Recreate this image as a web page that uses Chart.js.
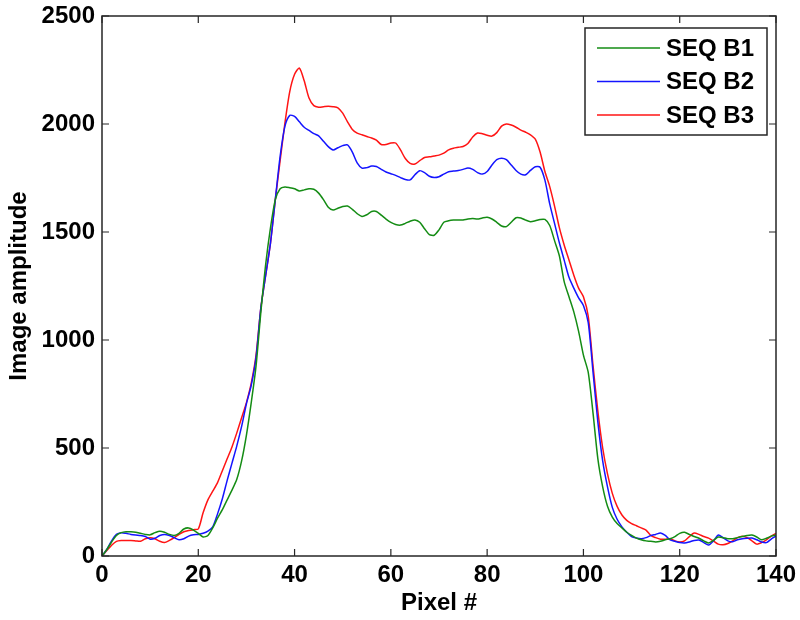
<!DOCTYPE html>
<html>
<head>
<meta charset="utf-8">
<script src="https://cdn.jsdelivr.net/npm/chart.js@4/dist/chart.umd.min.js"></script>
<style>
  html, body { margin: 0; padding: 0; background: #fff; }
  #wrap { width: 800px; height: 620px; }
</style>
</head>
<body>
<div id="wrap"><canvas id="myChart"></canvas></div>
<script>
// pixel positions along the profile (x axis)
const pixels = Array.from({ length: 141 }, (_, i) => i);

const seqB1 = [
  0, 30, 65, 95, 108, 112, 112, 110, 105, 100,
  98, 108, 115, 110, 100, 95, 105, 125, 130, 120,
  105, 88, 95, 130, 175, 215, 260, 305, 355, 440,
  560, 710, 880, 1130, 1350, 1520, 1650, 1700, 1708, 1705,
  1700, 1690, 1695, 1700, 1698, 1680, 1650, 1615, 1602, 1610,
  1618, 1620, 1605, 1585, 1572, 1580, 1595, 1595, 1578, 1560,
  1545, 1535, 1532, 1540, 1550, 1556, 1545, 1515, 1488, 1485,
  1510, 1545, 1552, 1555, 1555, 1556, 1560, 1562, 1560, 1565,
  1568, 1560, 1545, 1528, 1525, 1545, 1566, 1565, 1555, 1548,
  1552, 1558, 1558, 1530, 1460, 1390, 1270, 1200, 1130, 1040,
  930, 850, 660, 450, 320, 230, 180, 150, 130, 110,
  95, 83, 75, 70, 68, 65, 68, 75, 80, 90,
  105, 110, 100, 90, 82, 70, 60, 72, 88, 85,
  80, 80, 85, 90, 95, 97, 88, 75, 82, 92,
  97
];

const seqB2 = [
  0, 30, 70, 100, 108, 105, 100, 97, 95, 90,
  78, 82, 95, 100, 95, 85, 75, 80, 92, 98,
  100, 105, 115, 135, 195, 265, 350, 430, 510, 600,
  705, 790, 920, 1150, 1300, 1450, 1650, 1850, 1990, 2040,
  2035, 2010, 1985, 1970, 1955, 1945, 1920, 1895, 1880, 1890,
  1900, 1903, 1870, 1820, 1796, 1798, 1805, 1803, 1790, 1778,
  1770, 1762, 1752, 1743, 1741, 1765, 1784, 1775, 1758, 1752,
  1756, 1768, 1779, 1782, 1785, 1790, 1796, 1790, 1775, 1768,
  1780, 1810, 1835, 1842, 1835, 1810, 1785, 1768, 1765, 1785,
  1802, 1800, 1740, 1630, 1540, 1450, 1370, 1290, 1240, 1195,
  1160, 1080, 850, 620, 440, 320, 225, 170, 135, 110,
  90, 83, 80, 85, 95, 100, 106, 95, 75, 68,
  62, 60, 65, 72, 74, 62, 51, 70, 97, 85,
  70, 66, 75, 80, 82, 83, 75, 65, 62, 78,
  92
];

const seqB3 = [
  0, 25, 50, 68, 72, 72, 72, 70, 68, 80,
  85, 80, 68, 62, 72, 85, 100, 112, 118, 122,
  125, 200, 260, 300, 340, 395, 450, 505, 570, 640,
  710, 800, 930, 1150, 1300, 1450, 1650, 1830, 2005, 2150,
  2230, 2259, 2200, 2120, 2085, 2078, 2080, 2082, 2080, 2075,
  2050, 2010, 1975, 1958, 1950, 1942, 1935, 1925, 1905, 1905,
  1912, 1912, 1880, 1840, 1818, 1815, 1830, 1845, 1848, 1852,
  1856, 1865, 1880, 1888, 1892, 1896, 1910, 1940, 1958, 1955,
  1948, 1944, 1960, 1990, 2000, 1995, 1985, 1972, 1962, 1950,
  1930, 1870, 1780, 1710, 1620, 1520, 1440, 1370, 1300, 1240,
  1200, 1110, 880, 670, 500, 380, 290, 230, 190, 165,
  150, 140, 130, 120, 95, 85, 78, 78, 80, 70,
  65, 70, 90, 106, 100, 90, 83, 70, 55, 52,
  58, 70, 85, 92, 85, 70, 55, 62, 75, 92,
  105
];

const seriesNames = ['SEQ B1', 'SEQ B2', 'SEQ B3'];
const seriesColors = ['rgb(20,140,20)', 'rgb(20,20,255)', 'rgb(255,20,20)'];

const FONT = 'Arial, "Liberation Sans", Helvetica, sans-serif';
const frameColor = '#262626';

// matlab style box with inward ticks + legend in the upper right
const boxPlugin = {
  id: 'box',
  afterDraw(chart) {
    const { ctx, chartArea: a, scales } = chart;
    ctx.save();
    ctx.strokeStyle = frameColor;
    ctx.lineWidth = 1.5;
    ctx.strokeRect(a.left, a.top, a.right - a.left, a.bottom - a.top);

    const tl = 7;
    ctx.lineWidth = 1.2;
    ctx.beginPath();
    scales.x.ticks.forEach((t) => {
      const px = scales.x.getPixelForValue(t.value);
      ctx.moveTo(px, a.bottom);
      ctx.lineTo(px, a.bottom - tl);
      ctx.moveTo(px, a.top);
      ctx.lineTo(px, a.top + tl);
    });
    scales.y.ticks.forEach((t) => {
      const py = scales.y.getPixelForValue(t.value);
      ctx.moveTo(a.left, py);
      ctx.lineTo(a.left + tl, py);
      ctx.moveTo(a.right, py);
      ctx.lineTo(a.right - tl, py);
    });
    ctx.stroke();

    // legend
    const lx = 585, ly = 28, lw = 182, lh = 107;
    ctx.fillStyle = '#fff';
    ctx.fillRect(lx, ly, lw, lh);
    ctx.strokeStyle = frameColor;
    ctx.lineWidth = 1.5;
    ctx.strokeRect(lx, ly, lw, lh);
    ctx.font = 'bold 24px ' + FONT;
    ctx.textBaseline = 'middle';
    ctx.textAlign = 'left';
    chart.data.datasets.forEach((ds, i) => {
      const cy = ly + 20 + i * 33.5;
      ctx.strokeStyle = ds.borderColor;
      ctx.lineWidth = 1.5;
      ctx.beginPath();
      ctx.moveTo(lx + 12, cy);
      ctx.lineTo(lx + 75, cy);
      ctx.stroke();
      ctx.fillStyle = '#000';
      ctx.fillText(ds.label, lx + 81, cy + 1);
    });
    ctx.restore();
  },
};

const ctx = document.getElementById('myChart').getContext('2d');

new Chart(ctx, {
  type: 'line',
  data: {
    labels: pixels,
    datasets: [seqB1, seqB2, seqB3].map((vals, i) => ({
      label: seriesNames[i],
      data: vals,
      borderColor: seriesColors[i],
      backgroundColor: seriesColors[i],
      borderWidth: 1.5,
      pointRadius: 0,
      tension: 0.25,
      fill: false,
    })),
  },
  options: {
    responsive: true,
    maintainAspectRatio: false,
    animation: false,
    layout: { padding: { left: 0, right: 24, top: 16, bottom: 0 } },
    plugins: {
      legend: { display: false },
      tooltip: { enabled: false },
    },
    scales: {
      x: {
        type: 'linear',
        min: 0,
        max: 140,
        grid: { display: false, drawTicks: false },
        border: { display: false },
        ticks: {
          stepSize: 20,
          color: '#000',
          padding: 5,
          maxRotation: 0,
          callback: (v) => String(v),
          font: { family: FONT, size: 24, weight: 'bold' },
        },
        title: {
          display: true,
          text: 'Pixel #',
          color: '#000',
          padding: { top: 1, bottom: 2 },
          font: { family: FONT, size: 24, weight: 'bold' },
        },
        afterFit(scale) {
          scale.height = 64;
          scale.paddingLeft = 0;
          scale.paddingRight = 0;
        },
      },
      y: {
        min: 0,
        max: 2500,
        grid: { display: false, drawTicks: false },
        border: { display: false },
        ticks: {
          stepSize: 500,
          color: '#000',
          padding: 7,
          callback: (v) => String(v),
          font: { family: FONT, size: 24, weight: 'bold' },
        },
        title: {
          display: true,
          text: 'Image amplitude',
          color: '#000',
          padding: { top: 5, bottom: 2 },
          font: { family: FONT, size: 24, weight: 'bold' },
        },
        afterFit(scale) {
          scale.width = 102;
          scale.paddingTop = 0;
          scale.paddingBottom = 0;
        },
      },
    },
  },
  plugins: [boxPlugin],
});
</script>
</body>
</html>
